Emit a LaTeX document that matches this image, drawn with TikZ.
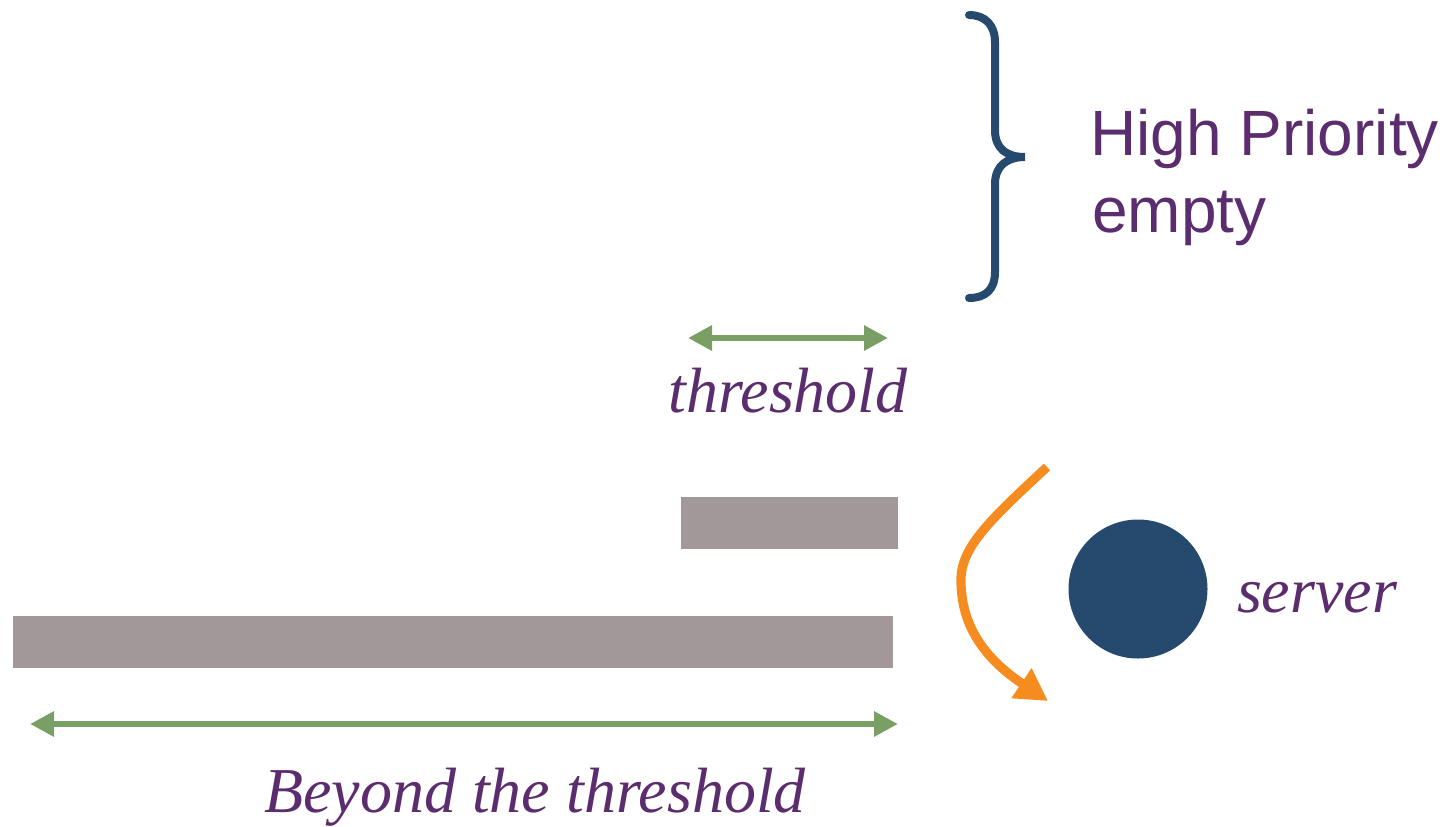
\documentclass[tikz,border=0pt]{standalone}
\usepackage{fontspec}
\setmainfont{Liberation Serif}
\newfontfamily\labelsans{Liberation Sans}
\usetikzlibrary{arrows.meta}
\definecolor{queuegrey}{HTML}{A39899}
\definecolor{serverblue}{HTML}{254A6E}
\definecolor{spangreen}{HTML}{7A9F64}
\definecolor{labelpurple}{HTML}{5C2D6E}
\definecolor{flowamber}{HTML}{F68B1F}
\tikzset{
  queuebar/.style={fill=queuegrey, draw=none, inner sep=0pt},
  span/.style={draw=spangreen, line width=3.2pt,
    {Triangle[length=12pt,width=12pt]}-{Triangle[length=12pt,width=12pt]}},
  italiclabel/.style={text=labelpurple, font=\itshape\fontsize{32}{38}\selectfont, inner sep=0pt, anchor=base},
  sanslabel/.style={text=labelpurple, font=\labelsans\fontsize{32}{38}\selectfont, inner sep=0pt, anchor=base west},
}
\begin{document}
\begin{tikzpicture}[x=0.5pt, y=-0.5pt]
  \useasboundingbox (0,0) rectangle (1446,826);

  % brace over the empty high-priority part
  \draw[serverblue, line width=4pt, line cap=round]
    (969,15) .. controls (985,15) and (995,25) .. (995,42) -- (995,130)
    .. controls (995,150) and (1008,157) .. (1025,157)
    .. controls (1008,157) and (995,165) .. (995,184) -- (995,272)
    .. controls (995,290) and (985,298) .. (969,298);
  \node[sanslabel] (hp) at (1090,155) {High Priority};
  \node[sanslabel] (hpempty) at (1092,232) {empty};

  % threshold span
  \coordinate (thL) at (688,338);
  \coordinate (thR) at (888,338);
  \draw[span] (thL) -- (thR);
  \node[italiclabel] (thlabel) at (788,412) {threshold};

  % queues
  \node[queuebar, minimum width=108.5pt, minimum height=26pt] (short) at (789.5,523) {};
  \node[queuebar, minimum width=440pt, minimum height=26pt] (long) at (453,642) {};

  % span beyond the threshold
  \coordinate (byL) at (30,724);
  \coordinate (byR) at (898,724);
  \draw[span] (byL) -- (byR);
  \node[italiclabel] (bylabel) at (535,812) {Beyond the threshold};

  % server
  \node[circle, fill=serverblue, minimum size=69.5pt, inner sep=0pt] (server) at (1138,589) {};
  \node[italiclabel] (srvlabel) at (1317,612) {server};

  % flow into the server
  \coordinate (flowA) at (1047,467);
  \coordinate (flowB) at (1048,701);
  \draw[flowamber, line width=4.6pt, -{Triangle[length=16pt,width=17pt]}]
    (flowA) .. controls (992,518) and (962,546) .. (961,578)
    .. controls (960,630) and (990,662) .. (flowB);
\end{tikzpicture}
\end{document}
